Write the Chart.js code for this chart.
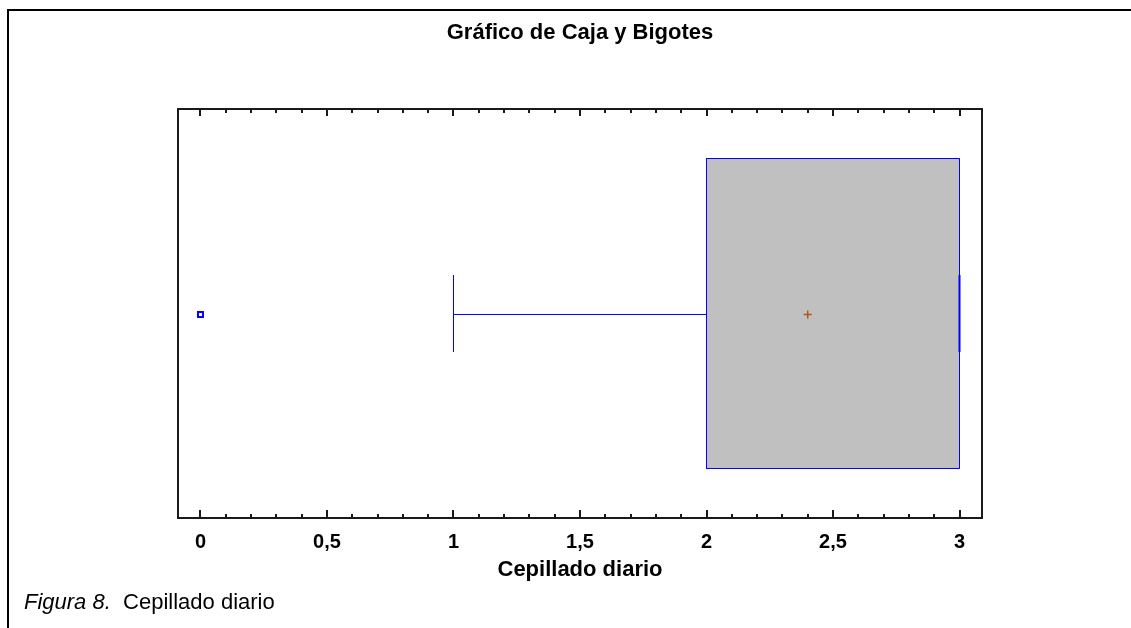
<!DOCTYPE html>
<html lang="es">
<head>
<meta charset="utf-8">
<title>Gráfico de Caja y Bigotes</title>
<script src="https://cdn.jsdelivr.net/npm/chart.js@4.4.1/dist/chart.umd.min.js"></script>
<style>
  html, body { margin: 0; padding: 0; background: #fff; }
  body { width: 1131px; height: 628px; position: relative; overflow: hidden; }
  #frame { position: absolute; left: 7px; top: 9px; right: 0; bottom: 0;
           border-top: 2px solid #000; border-left: 2px solid #000; }
  #chart { position: absolute; left: 0; top: 0; }
  #caption { position: absolute; left: 24px; top: 589px; font: 22px "Liberation Sans", Arial, sans-serif; color: #000; white-space: pre; }
</style>
</head>
<body>
<div id="frame"></div>
<canvas id="chart" width="1131" height="628"></canvas>
<div id="caption"><i>Figura 8.</i>  Cepillado diario</div>
<script>
// Variable and summary statistics for the box plot
const categories = ['Cepillado diario'];
const whiskerLow = [1];
const q1 = [2];
const median = [3];
const q3 = [3];
const whiskerHigh = [3];
const mean = [2.4];
const outliers = [[0]];

// Axis tick values and their labels (decimal comma)
const tickValues = [0, 0.5, 1, 1.5, 2, 2.5, 3];
const tickLabels = ['0', '0,5', '1', '1,5', '2', '2,5', '3'];

const FONT = '"Liberation Sans", Arial, sans-serif';
const BLUE = '#0000FF';

// vertical layout of the single box inside the plot (0..1 band),
// chosen so the 1px strokes fall on whole device pixels
const boxLo = 0.12103, boxHi = 0.87897, mid = 0.49756, capLo = 0.4059, capHi = 0.5941;

const i = 0;
const line = (pts, extra) => Object.assign({
  data: pts, showLine: true, borderColor: BLUE, borderWidth: 1,
  pointRadius: 0, fill: false, tension: 0, order: 1
}, extra || {});

const datasets = [
  // box body (drawn underneath everything else)
  line([{x: q1[i], y: boxHi}, {x: q3[i], y: boxHi}],
       {borderWidth: 0, borderColor: 'rgba(0,0,0,0)', backgroundColor: '#C0C0C0',
        fill: {value: boxLo}, order: 10}),
  // box outline
  line([{x: q1[i], y: boxLo}, {x: q3[i], y: boxLo}, {x: q3[i], y: boxHi},
        {x: q1[i], y: boxHi}, {x: q1[i], y: boxLo}]),
  // median
  line([{x: median[i], y: boxLo}, {x: median[i], y: boxHi}]),
  // lower whisker and cap
  line([{x: whiskerLow[i], y: mid}, {x: q1[i], y: mid}]),
  line([{x: whiskerLow[i], y: capLo}, {x: whiskerLow[i], y: capHi}]),
  // upper whisker and cap
  line([{x: q3[i], y: mid}, {x: whiskerHigh[i], y: mid}]),
  line([{x: whiskerHigh[i], y: capLo}, {x: whiskerHigh[i], y: capHi}], {borderWidth: 2}),
  // outliers
  {
    data: outliers[i].map(v => ({x: v, y: mid})), showLine: false,
    pointStyle: 'rect', pointRadius: 3.5, borderColor: BLUE, borderWidth: 2,
    backgroundColor: '#fff', order: 0
  },
  // mean
  {
    data: [{x: mean[i], y: mid}], showLine: false,
    pointStyle: 'cross', pointRadius: 4, borderColor: '#B4541E', borderWidth: 1.5,
    order: 0
  }
];

// Plot frame plus inward tick marks on the top and bottom edges
const frameTicks = {
  id: 'frameTicks',
  afterDatasetsDraw(chart) {
    const {ctx, chartArea: a, scales: {x}} = chart;
    ctx.save();
    ctx.strokeStyle = '#1a1a1a';
    ctx.lineWidth = 2;
    ctx.strokeRect(a.left, a.top, a.right - a.left, a.bottom - a.top);
    for (let k = 0; k <= 30; k++) {
      const v = k / 10;
      const px = Math.round(x.getPixelForValue(v));
      const major = k % 5 === 0;
      const lenB = major ? 8 : 4;
      const lenT = major ? 7 : 4;
      ctx.beginPath();
      ctx.moveTo(px, a.bottom); ctx.lineTo(px, a.bottom - lenB);
      ctx.moveTo(px, a.top); ctx.lineTo(px, a.top + lenT);
      ctx.stroke();
    }
    ctx.restore();
  }
};

new Chart(document.getElementById('chart'), {
  type: 'scatter',
  data: { datasets },
  options: {
    responsive: false,
    animation: false,
    devicePixelRatio: 1,
    layout: { padding: { left: 178, right: 149, top: 0, bottom: 46 } },
    plugins: {
      legend: { display: false },
      tooltip: { enabled: false },
      title: {
        display: true,
        text: 'Gráfico de Caja y Bigotes',
        color: '#000',
        font: { family: FONT, size: 22, weight: 'bold' },
        padding: { top: 20, bottom: 62.6 }
      }
    },
    scales: {
      x: {
        type: 'linear',
        min: -0.08893, max: 3.08893,
        afterBuildTicks(scale) { scale.ticks = tickValues.map(v => ({value: v})); },
        afterFit(scale) { scale.height = 64; },
        ticks: {
          callback: (v) => tickLabels[tickValues.indexOf(v)] ?? '',
          color: '#000',
          font: { family: FONT, size: 20, weight: 'bold', lineHeight: 1 },
          padding: 14,
          maxRotation: 0, autoSkip: false
        },
        grid: { display: false, drawTicks: false },
        border: { display: false },
        title: {
          display: true, text: categories[0], color: '#000',
          font: { family: FONT, size: 22, weight: 'bold', lineHeight: 1.1 },
          padding: { top: 0, bottom: 0 }
        }
      },
      y: {
        type: 'linear', min: 0, max: 1, display: false
      }
    }
  },
  plugins: [frameTicks]
});
</script>
</body>
</html>
